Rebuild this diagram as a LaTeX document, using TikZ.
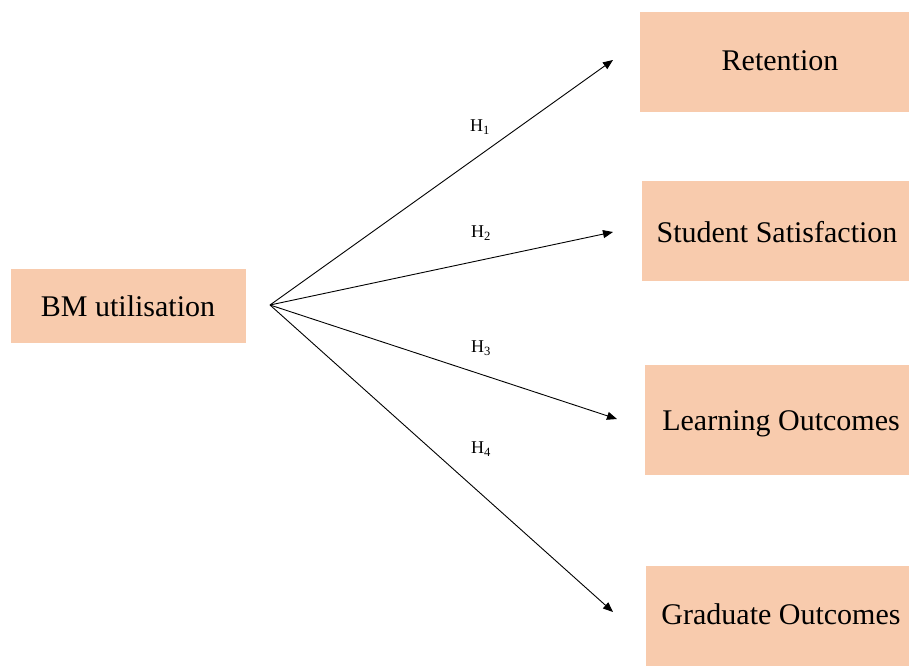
\documentclass[tikz,border=0pt]{standalone}
\usepackage{fontspec}
\setmainfont{Liberation Serif}
\usetikzlibrary{arrows.meta}
\definecolor{boxfill}{HTML}{F8CBAD}
\tikzset{
  box/.style={fill=boxfill, draw=none, inner sep=0pt, anchor=north west},
  boxtext/.style={font=\fontsize{30}{33}\selectfont, inner sep=0pt},
  hyp/.style={font=\fontsize{18}{20}\selectfont, inner sep=0pt},
  link/.style={line width=0.9pt, -{Triangle[length=10pt,width=8pt]}}
}
\begin{document}
\begin{tikzpicture}[x=1pt,y=-1pt]
\useasboundingbox (0,0) rectangle (909,666);
% coloured boxes
\node[box, minimum width=235pt, minimum height=74pt] (bm) at (11,269) {};
\node[box, minimum width=269pt, minimum height=100pt] (ret) at (640,12) {};
\node[box, minimum width=267pt, minimum height=100pt] (sat) at (642,181) {};
\node[box, minimum width=264pt, minimum height=110pt] (lrn) at (645,365) {};
\node[box, minimum width=263pt, minimum height=100pt] (grad) at (646,566) {};
% box texts
\node[boxtext] (bmt) at (128,306) {BM utilisation};
\node[boxtext] (rett) at (780,61) {Retention};
\node[boxtext] (satt) at (777,232) {Student Satisfaction};
\node[boxtext] (lrnt) at (781,424) {Learning Outcomes};
\node[boxtext] (gradt) at (781,614) {Graduate Outcomes};
% arrow ends
\coordinate (src) at (270,305);
\coordinate (e1) at (613,60);
\coordinate (e2) at (613,232);
\coordinate (e3) at (617,419);
\coordinate (e4) at (613,612);
\draw[link] (src) -- (e1);
\draw[link] (src) -- (e2);
\draw[link] (src) -- (e3);
\draw[link] (src) -- (e4);
% hypothesis labels
\node[hyp] (h1) at (480,127) {H\textsubscript{1}};
\node[hyp] (h2) at (481,233) {H\textsubscript{2}};
\node[hyp] (h3) at (481,348) {H\textsubscript{3}};
\node[hyp] (h4) at (481,449) {H\textsubscript{4}};
\end{tikzpicture}
\end{document}
